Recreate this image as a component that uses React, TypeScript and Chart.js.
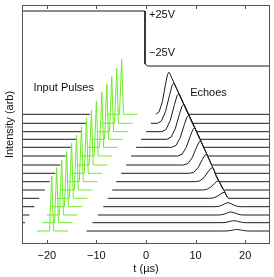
import React, { useEffect, useRef } from 'react';
import { Chart, registerables } from 'chart.js';

Chart.register(...registerables);

// ---- data ----
const xTicks = [-20, -10, 0, 10, 20];
const tMin = -25;
const tMax = 25;
const yMin = 0;
const yMax = 239;

// vertical offset of each trace (arb), top trace first
const baselines = [129.7, 120.7, 112.3, 104.7, 96.7, 88, 79, 70.7, 62.3, 54, 45.7, 37.3, 29, 21.3, 13];
// input pulse times (µs)
const pulseT = [-4.9, -5.9, -6.9, -7.9, -8.9, -10.0, -11.0, -12.0, -13.0, -14.0, -15.0, -16.0, -17.0, -18.0, -19.0];
const pulseH = 55;
// black pre-pulse record ends (µs); null = none
const leftEnd = [-11.3, -12.1, -13.0, -14.0, -15.0, -16.2, -17.3, -18.3, -19.4, -20.4, -21.5, -22.5, -23.5, -24.4, null];
// green record window (µs)
const greenStart = [-7.9, -8.9, -9.9, -10.9, -11.9, -13.0, -14.0, -15.0, -16.0, -17.0, -18.0, -19.0, -20.0, -21.0, -22.0];
const greenEnd = [-1.7, -2.7, -3.7, -4.7, -5.7, -6.8, -7.8, -8.8, -9.8, -10.8, -11.8, -12.8, -13.8, -14.8, -15.7];
// echo record window start (µs)
const echoStart = [2.0, 1.0, 0.0, -1.0, -2.0, -3.0, -4.0, -5.0, -6.0, -6.8, -7.7, -8.6, -9.7, -10.8, -12.0];
// echo peaks
const echoPeakT = [4.6, 5.6, 6.6, 7.6, 8.6, 9.8, 11.0, 12.2, 13.4, 14.6, 15.8, 16.5, 17.1, 17.7, 18.3];
const echoPeakH = [42, 40, 38, 35, 32, 28, 24, 19, 14, 9, 6, 4, 3, 2, 1.5];
const echoRiseStart = [2.0, 2.3, 3.2, 4.2, 5.2, 6.4, 7.6, 8.8, 10.0, 11.4, 12.8, 13.9, 14.5, 15.1, 15.7];
const echoFallEnd = [8.55, 9.37, 10.18, 10.9, 11.65, 12.44, 13.26, 14.0, 14.9, 15.8, 16.7, 19.0, 19.6, 20.2, 20.8];
const echoSharpFall = [true, true, true, true, true, true, true, true, false, false, false, false, false, false, false];
// echo profile (fraction of time, fraction of height)
const riseProfile = [[0, 0], [0.25, 0.06], [0.5, 0.3], [0.75, 0.72], [0.9, 0.95], [1, 1]];
const fallRounded = [[0, 1], [0.1, 0.95], [0.3, 0.7], [0.55, 0.32], [0.8, 0.07], [1, 0]];
const fallStraight = [[0, 1], [0.06, 0.96], [1, 0]];

// gate voltage trace
const gateT = [-25, -0.2, -0.2, 0.3, 25];
const gateY = [233, 233, 180, 178, 178];

// straight guide through the echo maxima
const guideT = [13.9, 16.4];
const guideY = [71, 47];

const labels = [
  { text: '+25V', t: 0.6, y: 229 },
  { text: '\u221225V', t: 0.6, y: 191 },
  { text: 'Input Pulses', t: -22.7, y: 156 },
  { text: 'Echoes', t: 8.9, y: 151 },
];

const FONT = '"Liberation Sans", Arial, Helvetica, sans-serif';
const BLACK = '#1c1c1c';
const GREEN = 'rgb(110,235,40)';

function buildDatasets() {
  const ds: any[] = [];
  const line = (data: { x: number; y: number }[], color: string, order: number) => ({
    data,
    borderColor: color,
    borderWidth: 1,
    pointRadius: 0,
    tension: 0,
    fill: false,
    order,
  });
  ds.push(line(gateT.map((t, i) => ({ x: t, y: gateY[i] })), BLACK, 2));
  ds.push(line(guideT.map((t, i) => ({ x: t, y: guideY[i] })), BLACK, 2));
  for (let k = 0; k < baselines.length; k++) {
    const B = baselines[k];
    const le = leftEnd[k];
    if (le !== null) ds.push(line([{ x: tMin, y: B }, { x: le, y: B }], BLACK, 2));
    const p = pulseT[k];
    ds.push(
      line(
        [
          { x: greenStart[k], y: B },
          { x: p - 0.45, y: B },
          { x: p, y: B + pulseH },
          { x: p + 0.35, y: B },
          { x: greenEnd[k], y: B },
        ],
        GREEN,
        1
      )
    );
    const pts: { x: number; y: number }[] = [{ x: echoStart[k], y: B }];
    const rs = echoRiseStart[k];
    const pk = echoPeakT[k];
    const h = echoPeakH[k];
    for (const [f, a] of riseProfile) pts.push({ x: rs + f * (pk - rs), y: B + a * h });
    const fe = echoFallEnd[k];
    const fall = echoSharpFall[k] ? fallStraight : fallRounded;
    for (const [f, a] of fall.slice(1)) pts.push({ x: pk + f * (fe - pk), y: B + a * h });
    pts.push({ x: tMax, y: B });
    ds.push(line(pts, BLACK, 2));
  }
  return ds;
}

const framePlugin = {
  id: 'frameAndText',
  afterDatasetsDraw(chart: any) {
    const { ctx, chartArea, scales } = chart;
    const { left, right, top, bottom } = chartArea;
    const x = scales.x;
    const y = scales.y;
    ctx.save();
    ctx.strokeStyle = '#555';
    ctx.lineWidth = 1;
    ctx.strokeRect(left + 0.5, top + 0.5, right - left - 1, bottom - top - 1);
    ctx.beginPath();
    for (const v of xTicks) {
      const px = Math.round(x.getPixelForValue(v)) + 0.5;
      ctx.moveTo(px, bottom);
      ctx.lineTo(px, bottom - 4);
      ctx.moveTo(px, top);
      ctx.lineTo(px, top + 4);
    }
    ctx.stroke();
    ctx.fillStyle = '#111';
    ctx.font = '11px ' + FONT;
    ctx.textBaseline = 'middle';
    ctx.textAlign = 'left';
    for (const l of labels) ctx.fillText(l.text, x.getPixelForValue(l.t), y.getPixelForValue(l.y));
    ctx.restore();
  },
};

export default function App() {
  const ref = useRef<HTMLCanvasElement | null>(null);
  useEffect(() => {
    if (!ref.current) return;
    const chart = new Chart(ref.current, {
      type: 'line',
      data: { datasets: buildDatasets() },
      options: {
        animation: false,
        responsive: false,
        parsing: false as any,
        normalized: true,
        layout: { padding: { top: 5, right: 4, left: 0, bottom: 0 } },
        plugins: { legend: { display: false }, tooltip: { enabled: false } },
        scales: {
          x: {
            type: 'linear',
            min: tMin,
            max: tMax,
            afterBuildTicks: (s: any) => {
              s.ticks = xTicks.map((v) => ({ value: v }));
            },
            afterFit: (s: any) => {
              s.height = 33;
            },
            grid: { display: false, drawTicks: false },
            border: { display: false },
            ticks: {
              autoSkip: false,
              maxRotation: 0,
              padding: 5,
              color: '#111',
              font: { family: FONT, size: 11 },
              callback: (v: any) => (v < 0 ? '\u2212' + Math.abs(v) : String(v)),
            },
            title: {
              display: true,
              text: 't (\u00b5s)',
              color: '#111',
              font: { family: FONT, size: 11 },
              padding: { top: 0, bottom: 1 },
            },
          },
          y: {
            type: 'linear',
            min: yMin,
            max: yMax,
            afterFit: (s: any) => {
              s.width = 22;
            },
            grid: { display: false, drawTicks: false },
            border: { display: false },
            ticks: { display: false },
            title: {
              display: true,
              text: 'Intensity (arb)',
              color: '#111',
              font: { family: FONT, size: 11 },
              padding: { top: 3, bottom: 0 },
            },
          },
        },
      },
      plugins: [framePlugin],
    });
    return () => chart.destroy();
  }, []);
  return (
    <div style={{ position: 'fixed', left: 0, top: 0, width: 274, height: 277, background: '#fff' }}>
      <canvas ref={ref} width={274} height={277} />
    </div>
  );
}
